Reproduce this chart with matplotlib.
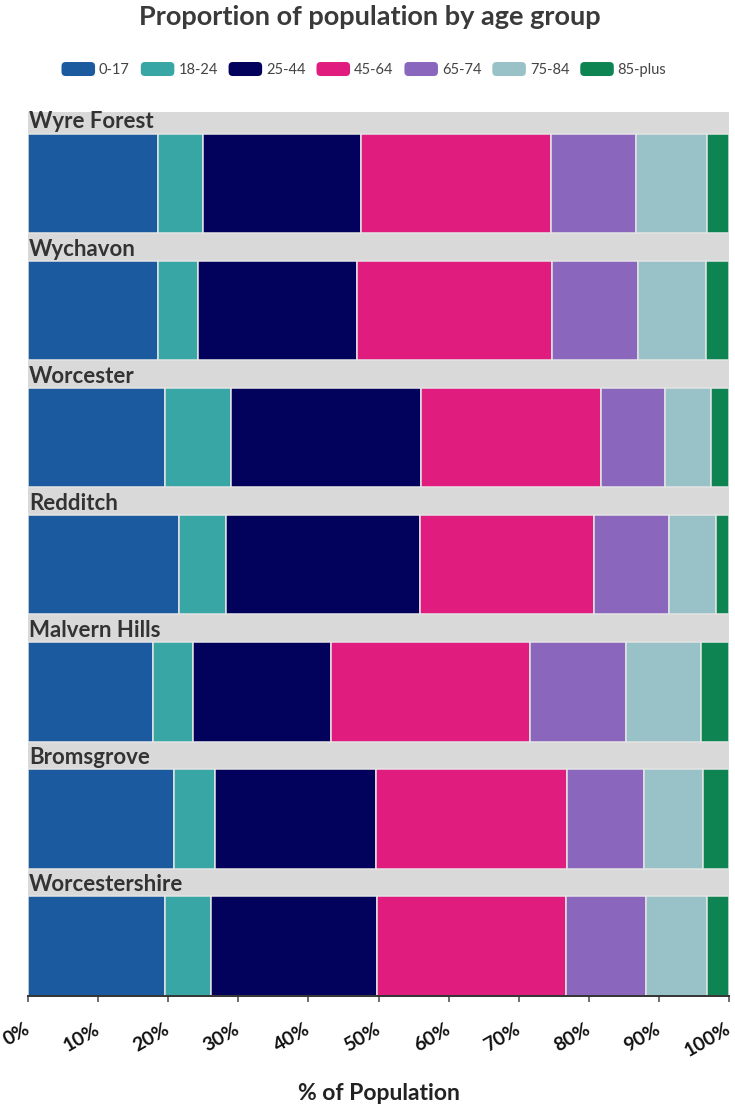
import matplotlib
matplotlib.use("Agg")
import matplotlib.pyplot as plt
from matplotlib.patches import Patch, FancyBboxPatch
from matplotlib.legend_handler import HandlerPatch

# ---- data ----
areas = ["Wyre Forest", "Wychavon", "Worcester", "Redditch",
         "Malvern Hills", "Bromsgrove", "Worcestershire"]
age_groups = ["0-17", "18-24", "25-44", "45-64", "65-74", "75-84", "85-plus"]
colors = ["#1c5a9f", "#37a6a4", "#02025c", "#e01d7e", "#8a67bd", "#98c2c8", "#0f8453"]

share_0_17 = [18.5, 18.5, 19.5, 21.6, 17.9, 20.8, 19.5]
share_18_24 = [6.4, 5.8, 9.4, 6.7, 5.7, 5.9, 6.6]
share_25_44 = [22.6, 22.6, 27.2, 27.6, 19.6, 23.0, 23.7]
share_45_64 = [27.1, 27.8, 25.6, 24.9, 28.4, 27.2, 26.9]
share_65_74 = [12.2, 12.3, 9.2, 10.6, 13.7, 11.0, 11.5]
share_75_84 = [10.0, 9.7, 6.6, 6.7, 10.7, 8.4, 8.7]
share_85_plus = [3.2, 3.3, 2.5, 1.9, 4.0, 3.7, 3.1]

x_ticks = [0, 10, 20, 30, 40, 50, 60, 70, 80, 90, 100]
x_tick_labels = [f"{t}%" for t in x_ticks]

series = [share_0_17, share_18_24, share_25_44, share_45_64,
          share_65_74, share_75_84, share_85_plus]

# ---- figure ----
W, H = 735, 1108
fig = plt.figure(figsize=(W / 100, H / 100), dpi=100)
fam = ["Lato", "DejaVu Sans"]

ax_l, ax_r, ax_t, ax_b = 28, 729, 111.7, 995.7
ax = fig.add_axes([ax_l / W, 1 - ax_b / H, (ax_r - ax_l) / W, (ax_b - ax_t) / H])

period = 127.07
bar_h = 99.3 / period
gap = 1 - bar_h

# strips
for i, name in enumerate(areas):
    ax.axhspan(i - gap, i, color="#d9d9d9", lw=0, zorder=0)
    ax.text(0.15, i - 5.5 / period, name, ha="left", va="baseline",
            fontsize=16, fontweight="bold", color="#333333",
            family=fam, zorder=3)

# stacked bars
left = [0.0] * len(areas)
for vals, col, lab in zip(series, colors, age_groups):
    ax.barh(range(len(areas)), vals, left=left, height=bar_h, align="edge",
            color=col, edgecolor="#e4e4e4", linewidth=1.1, label=lab, zorder=2)
    left = [l + v for l, v in zip(left, vals)]

ax.set_xlim(0, 100)
ax.set_ylim(len(areas) - 1 + bar_h, -22.3 / period)
ax.set_yticks([])
for s in ["top", "right", "left"]:
    ax.spines[s].set_visible(False)
ax.spines["bottom"].set_color("#333333")
ax.spines["bottom"].set_linewidth(1.4)
ax.spines["bottom"].set_zorder(5)

ax.set_xticks(x_ticks)
ax.set_xticklabels(x_tick_labels, rotation=30, ha="right", va="center",
                   rotation_mode="anchor", fontweight="bold", fontsize=14,
                   family=fam, color="#111111")
ax.tick_params(axis="x", length=4, width=1.2, color="#555555", pad=19)

ax.set_xlabel("% of Population", fontsize=16.5, fontweight="bold",
              family=fam, color="#222222", va="center")
ax.xaxis.set_label_coords(0.5, -(1094 - ax_b) / (ax_b - ax_t))

# title
fig.text(0.503, 1 - 17 / H, "Proportion of population by age group",
         ha="center", va="center", fontsize=19.5, fontweight="bold",
         color="#3a3a3a", family=fam)


# legend with rounded swatches
class RoundHandler(HandlerPatch):
    def create_artists(self, legend, orig_handle, xdescent, ydescent,
                       width, height, fontsize, trans):
        r = 3
        p = FancyBboxPatch((-xdescent + r, -ydescent + r), width - 2 * r,
                           height - 2 * r, boxstyle=f"round,pad={r}",
                           fc=orig_handle.get_facecolor(), ec="none",
                           transform=trans)
        return [p]


handles = [Patch(facecolor=c, label=l) for c, l in zip(colors, age_groups)]
leg = fig.legend(handles=handles, labels=age_groups, loc="center",
                 bbox_to_anchor=(364 / W, 1 - 69.5 / H), ncol=7,
                 frameon=False, prop={"family": fam, "size": 10.5},
                 handlelength=2.3, handleheight=1.1, handletextpad=0.27,
                 columnspacing=0.75, borderpad=0, borderaxespad=0,
                 handler_map={Patch: RoundHandler()})
for t in leg.get_texts():
    t.set_color("#444444")

fig.savefig("out.png", dpi=100)
